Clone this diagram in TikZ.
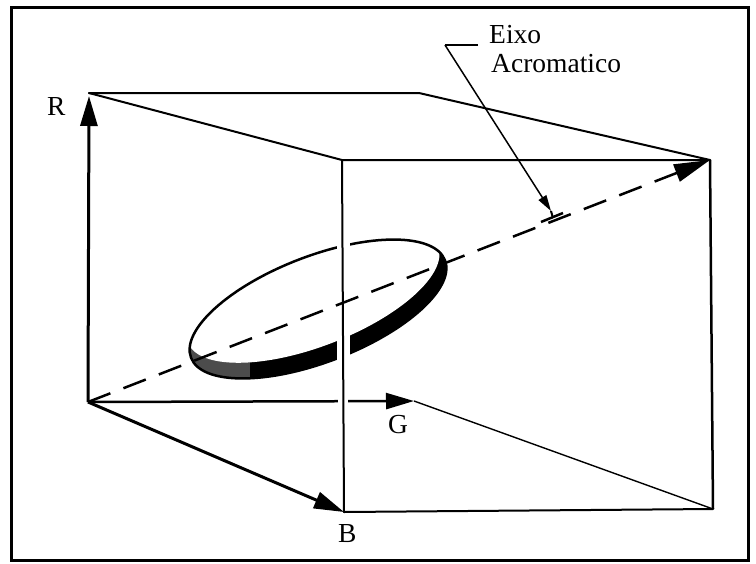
\documentclass[tikz,border=0pt]{standalone}
\usepackage{fontspec}
\setmainfont{Liberation Serif}
\usetikzlibrary{arrows.meta}
\begin{document}
\begin{tikzpicture}[x=1pt,y=-1pt,
  edge/.style={line width=2pt,line join=round,line cap=round},
  axisarrow/.style={line width=3pt,-{Triangle[length=30pt,width=17pt]}},
  lbl/.style={font=\fontsize{27.5}{30}\selectfont,inner sep=0pt},
  ]
\useasboundingbox (0,0) rectangle (756,563);
\draw[line width=3pt] (11,7) rectangle (748,560);
% corners
\coordinate (O) at (88,402);
\coordinate (R) at (89,93);
\coordinate (Rtip) at (89,96);
\coordinate (G) at (414,401);
\coordinate (B) at (344,512);
\coordinate (F) at (342,160);
\coordinate (FTR) at (710,160);
\coordinate (FBR) at (713,509);
\coordinate (BTR) at (419,93);
\coordinate (C) at (318,309);
\coordinate (C2) at (313,294.5);
% cube edges
\draw[edge] (R) -- (BTR) -- (FTR);
\draw[edge] (R) -- (F) -- (FTR);
\draw[line width=2.5pt] (FTR) -- (FBR);
\draw[edge] (B) -- (FBR);
\draw[line width=1.4pt] (G) -- (FBR);
% axes
\draw[axisarrow] (O) -- (Rtip);
\draw[axisarrow] (O) -- (B);
\draw[line width=2.5pt,-{Triangle[length=28pt,width=16pt]}] (O) -- (G);
% ellipse with dark lower rim
\begin{scope}
  \clip[rotate around={21:(C)}] (C) ellipse [x radius=136pt,y radius=53pt];
  \fill[rotate around={21:(C)}] (C) ellipse [x radius=136pt,y radius=53pt];
  \fill[black!70] (180,330) rectangle (250,390);
  \fill[white,rotate around={21:(C2)}] (C2) ellipse [x radius=134pt,y radius=52pt];
\end{scope}
\draw[line width=2.5pt,rotate around={21:(C)}] (C) ellipse [x radius=136pt,y radius=53pt];
% gap where the front edge crosses
\draw[white,line width=13pt] (343,236) -- (343,366);
\draw[white,line width=10pt] (343,392) -- (343,410);
% front vertical edge
\draw[edge] (F) -- (B);
% achromatic axis
\draw[line width=2.5pt,dash pattern=on 24pt off 14pt,-{Triangle[length=36pt,width=18pt]}] (O) -- (FTR);
% leader
\coordinate (L1) at (478,45);
\coordinate (L2) at (445,45);
\coordinate (Ltip) at (551,211);
\coordinate (Lend) at (553,218);
\draw[line width=1.5pt] (L1) -- (L2);
\draw[line width=1.5pt,-{Triangle[length=16pt,width=9pt]}] (L2) -- (Ltip);
\draw[line width=2pt] (Ltip) -- (Lend);
\draw[line width=2.5pt] (541,222) -- (563,213);
% labels
\node[lbl,anchor=base west] (tR) at (47,115) {R};
\node[lbl,anchor=base west] (tG) at (388,433) {G};
\node[lbl,anchor=base west] (tB) at (338,542) {B};
\node[lbl,anchor=base west] (t1) at (489,43) {Eixo};
\node[lbl,anchor=base west] (t2) at (491,72) {Acromatico};
\end{tikzpicture}
\end{document}
